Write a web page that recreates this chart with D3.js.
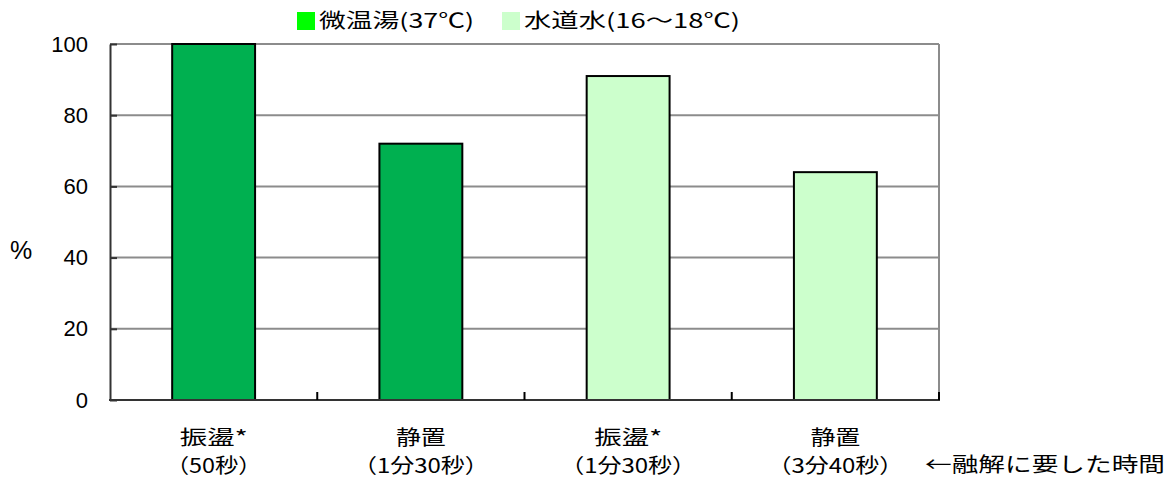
<!DOCTYPE html>
<html>
<head>
<meta charset="utf-8">
<script src="https://cdn.jsdelivr.net/npm/d3@7"></script>
<style>
  body { margin: 0; background: #fff; }
  text { font-family: "Noto Sans CJK JP", "Noto Sans", sans-serif; fill: #000; }
</style>
</head>
<body>
<div id="chart"></div>
<script>
// chart data
const catTop = ["振盪*", "静置", "振盪*", "静置"];
const catBottom = ["（50秒）", "（1分30秒）", "（1分30秒）", "（3分40秒）"];
const values = [100, 72, 91, 64];
const seriesOf = [0, 0, 1, 1]; // which legend entry each bar belongs to
const legendLabels = ["微温湯(37℃)", "水道水(16～18℃)"];
const yTicks = [0, 20, 40, 60, 80, 100];

const barColors = ["#00b050", "#ccffcc"];
const legendColors = ["#00ff00", "#ccffcc"];

const W = 1170, H = 481;
const margin = { left: 110, right: 231, top: 44, bottom: 81 };
const jpFont = 20;

const svg = d3.select("#chart").append("svg")
  .attr("width", W).attr("height", H);

const x = d3.scaleBand()
  .domain(d3.range(catTop.length))
  .range([margin.left, W - margin.right])
  .paddingInner(0.6).paddingOuter(0.3);

// full category slots, for the ticks between them
const xc = d3.scaleBand()
  .domain(d3.range(catTop.length))
  .range([margin.left, W - margin.right]);

const y = d3.scaleLinear().domain([0, 100]).range([H - margin.bottom, margin.top]);

// gridlines
svg.append("g").selectAll("line")
  .data(yTicks.filter(d => d > 0))
  .enter().append("line")
  .attr("x1", margin.left).attr("x2", W - margin.right)
  .attr("y1", d => y(d)).attr("y2", d => y(d))
  .style("stroke", "#8c8c8c").style("stroke-width", 2);

// right border
svg.append("line")
  .attr("x1", W - margin.right).attr("x2", W - margin.right)
  .attr("y1", y(100)).attr("y2", y(0))
  .style("stroke", "#8c8c8c").style("stroke-width", 2);

// bars
svg.append("g").selectAll("rect")
  .data(values)
  .enter().append("rect")
  .attr("x", (d, i) => x(i))
  .attr("y", d => y(d))
  .attr("width", x.bandwidth())
  .attr("height", d => y(0) - y(d))
  .style("fill", (d, i) => barColors[seriesOf[i]])
  .style("stroke", "#000")
  .style("stroke-width", 2);

// y axis, ticks pointing inward
const yAxis = d3.axisLeft(y).tickValues(yTicks).tickSizeInner(-7).tickSizeOuter(0).tickPadding(22);
const gy = svg.append("g")
  .attr("transform", `translate(${margin.left},0)`)
  .call(yAxis);
gy.select(".domain").style("stroke", "#333").style("stroke-width", 2);
gy.selectAll(".tick line").style("stroke", "#333").style("stroke-width", 2);
gy.selectAll(".tick text")
  .style("font-size", "22px")
  .style("font-family", "'Liberation Sans', Arial, sans-serif");

// x axis line + inner ticks
svg.append("line")
  .attr("x1", margin.left - 1).attr("x2", W - margin.right + 1)
  .attr("y1", y(0)).attr("y2", y(0))
  .style("stroke", "#333").style("stroke-width", 2);
svg.append("g").selectAll("line")
  .data(d3.range(1, catTop.length + 1))
  .enter().append("line")
  .attr("x1", i => i < catTop.length ? xc(i) : W - margin.right)
  .attr("x2", i => i < catTop.length ? xc(i) : W - margin.right)
  .attr("y1", y(0) - 8).attr("y2", y(0))
  .style("stroke", "#000").style("stroke-width", 2);

// category labels (widths stretched to the reference's wider glyphs)
const fitTop = t => t.length === 2 ? 50 : 68;
const fitBottom = t => t.length <= 5 ? 96 : 136;

svg.append("g").selectAll("text")
  .data(catTop)
  .enter().append("text")
  .attr("x", (d, i) => x(i) + x.bandwidth() / 2)
  .attr("y", 445)
  .attr("text-anchor", "middle")
  .attr("textLength", d => fitTop(d))
  .attr("lengthAdjust", "spacingAndGlyphs")
  .style("font-size", jpFont + "px")
  .text(d => d);

svg.append("g").selectAll("text")
  .data(catBottom)
  .enter().append("text")
  .attr("x", (d, i) => x(i) + x.bandwidth() / 2)
  .attr("y", 473)
  .attr("text-anchor", "middle")
  .attr("textLength", d => fitBottom(d))
  .attr("lengthAdjust", "spacingAndGlyphs")
  .style("font-size", jpFont + "px")
  .text(d => d);

svg.append("text")
  .attr("x", 925).attr("y", 472)
  .attr("textLength", 240)
  .attr("lengthAdjust", "spacingAndGlyphs")
  .style("font-size", jpFont + "px")
  .text("←融解に要した時間");

// y label
svg.append("text")
  .attr("x", 10).attr("y", 259)
  .style("font-size", "25px")
  .style("font-family", "'Liberation Sans', Arial, sans-serif")
  .text("%");

// legend
const legendX = [297, 502];
const legendW = [155, 216];
const lg = svg.append("g").selectAll("g")
  .data(legendLabels)
  .enter().append("g")
  .attr("transform", (d, i) => `translate(${legendX[i]},12)`);
lg.append("rect")
  .attr("width", 18).attr("height", 18)
  .style("fill", (d, i) => legendColors[i]);
lg.append("text")
  .attr("x", 22).attr("y", 16)
  .attr("textLength", (d, i) => legendW[i])
  .attr("lengthAdjust", "spacingAndGlyphs")
  .style("font-size", jpFont + "px")
  .text(d => d);
</script>
</body>
</html>
